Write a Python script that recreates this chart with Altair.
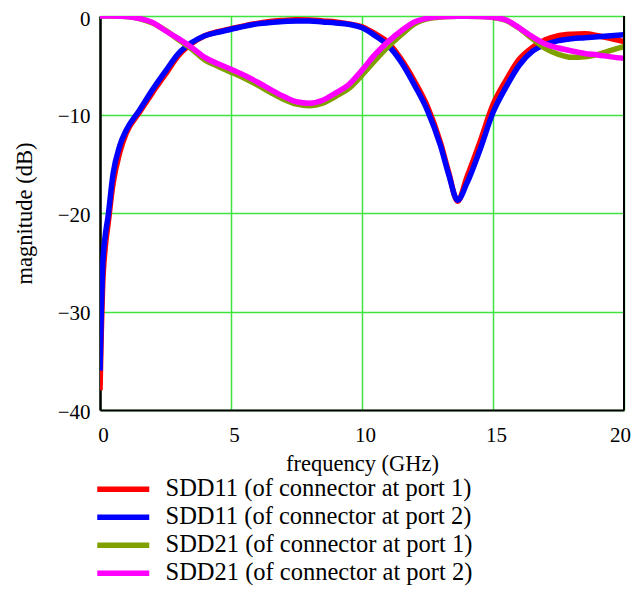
import altair as alt
import pandas as pd

freq = [0, 0.05, 0.1, 0.2, 0.3, 0.5, 0.75, 1.0, 1.5, 2.0, 2.5, 3.0, 3.5, 4.0, 4.5,
        5.0, 5.5, 6.0, 6.5, 7.0, 7.5, 8.0, 8.5, 9.0, 9.5, 10.0, 10.5, 11.0, 11.5,
        12.0, 12.5, 13.0, 13.3, 13.65, 14.0, 14.5, 15.0, 15.5, 16.0, 16.5, 17.0,
        17.5, 18.0, 18.5, 19.0, 19.5, 20.0]

sdd11_port1 = [-38.0, -32.0, -27.5, -23.5, -21.3, -17.0, -13.9, -11.9, -9.8, -7.8, -5.9,
               -4.0, -2.8, -2.0, -1.6, -1.3, -1.0, -0.75, -0.55, -0.45, -0.38, -0.4,
               -0.5, -0.6, -0.8, -1.1, -1.8, -2.7, -4.4, -6.6, -9.2, -12.9, -15.8,
               -18.8, -16.4, -12.8, -9.0, -6.5, -4.4, -3.2, -2.4, -2.0, -1.85, -1.8,
               -2.0, -2.3, -2.6]
sdd11_port2 = [-36.0, -30.0, -25.5, -22.3, -20.5, -16.0, -13.2, -11.6, -9.6, -7.5, -5.6,
               -3.8, -2.7, -2.0, -1.65, -1.35, -1.05, -0.8, -0.65, -0.55, -0.5, -0.5,
               -0.6, -0.7, -0.85, -1.2, -2.0, -3.0, -4.7, -7.0, -9.6, -13.2, -16.0,
               -18.7, -17.0, -13.6, -9.8, -7.2, -5.0, -3.6, -2.9, -2.5, -2.3, -2.2,
               -2.1, -2.0, -1.9]
sdd21_port1 = [0, 0, 0, 0, 0, -0.01, -0.03, -0.06, -0.25, -0.7, -1.45, -2.4, -3.35,
               -4.45, -5.1, -5.7, -6.3, -7.0, -7.75, -8.45, -8.95, -9.1, -8.85, -8.15,
               -7.35, -6.0, -4.5, -3.1, -1.9, -0.8, -0.3, -0.1, -0.05, -0.03, -0.03,
               -0.05, -0.15, -0.45, -1.25, -2.3, -3.3, -3.9, -4.2, -4.15, -3.9, -3.5,
               -3.1]
sdd21_port2 = [0, 0, 0, 0, 0, -0.01, -0.03, -0.06, -0.25, -0.65, -1.5, -2.3, -3.2,
               -4.2, -4.85, -5.4, -6.0, -6.7, -7.45, -8.15, -8.7, -8.85, -8.55, -7.8,
               -6.95, -5.5, -3.9, -2.6, -1.5, -0.6, -0.22, -0.08, -0.05, -0.03, -0.03,
               -0.05, -0.13, -0.4, -1.2, -2.1, -2.85, -3.25, -3.55, -3.8, -3.95, -4.15,
               -4.3]

series_names = ["SDD11 (of connector at port 1)", "SDD11 (of connector at port 2)",
                "SDD21 (of connector at port 1)", "SDD21 (of connector at port 2)"]
series_values = [sdd11_port1, sdd11_port2, sdd21_port1, sdd21_port2]
series_colors = ["#ff0000", "#0000ff", "#80a000", "#ff00ff"]

x_ticks = [0, 5, 10, 15, 20]
y_ticks = [-40, -30, -20, -10, 0]

FONT = "Liberation Serif"

color_scale = alt.Scale(domain=series_names, range=series_colors)

x_enc = alt.X("frequency:Q",
              scale=alt.Scale(domain=[0, 20], nice=False, zero=False),
              axis=alt.Axis(values=x_ticks, title="frequency (GHz)", ticks=False,
                            labelPadding=14, labelFontSize=21,
                            labelOffset={"condition": {"test": "datum.value == 20", "value": -4},
                                         "value": 3},
                            labelFlush=False,
                            titleFontSize=22.5, titleY=53, titleBaseline="middle",
                            domainColor="black", domainWidth=2,
                            gridColor="#3fe33f", gridWidth=1.5))
y_enc = alt.Y("magnitude:Q",
              scale=alt.Scale(domain=[-40, 0], nice=False),
              axis=alt.Axis(values=y_ticks, title="magnitude (dB)", ticks=False,
                            labelPadding=10, labelFontSize=21,
                            labelOffset={"condition": {"test": "datum.value == 0", "value": 3},
                                         "value": 2},
                            titleFontSize=22.5, titleX=-76, titleY=197,
                            titleAngle=270, titleAlign="center", titleBaseline="middle",
                            domainColor="black", domainWidth=2.5,
                            gridColor="#3fe33f", gridWidth=1.5))

layers = []
for i, (name, vals) in enumerate(zip(series_names, series_values)):
    df = pd.DataFrame({"frequency": freq, "magnitude": vals, "series": name})
    if i == 0:
        color = alt.Color("series:N", scale=color_scale, legend=alt.Legend(
            orient="none", legendX=11, legendY=461, title=None, padding=0,
            symbolType="M-4,0L4,0", symbolSize=169, symbolStrokeWidth=5.5,
            labelFont=FONT, labelFontSize=24.5, labelOffset=30, rowPadding=3,
            labelLimit=500))
    else:
        color = alt.Color("series:N", scale=color_scale)
    layers.append(
        alt.Chart(df).mark_line(strokeWidth=5.5, interpolate="monotone", clip=True)
        .encode(x=x_enc, y=y_enc, color=color)
    )

border = alt.Chart(pd.DataFrame({"frequency": [20]})).mark_rule(
    color="black", strokeWidth=2).encode(x=alt.X("frequency:Q"))

chart = alt.layer(*layers, border).properties(
    width=524, height=394,
    autosize=alt.AutoSizeParams(type="none"),
    padding={"left": 92, "top": 8, "right": 7, "bottom": 176},
).configure_view(stroke=None).configure_axis(
    labelFont=FONT, titleFont=FONT, labelColor="black", titleColor="black",
    titleFontWeight="normal", gridOpacity=1,
).configure_legend(labelColor="black")

chart.save("out.html", embed_options={"renderer": "svg", "actions": False})
